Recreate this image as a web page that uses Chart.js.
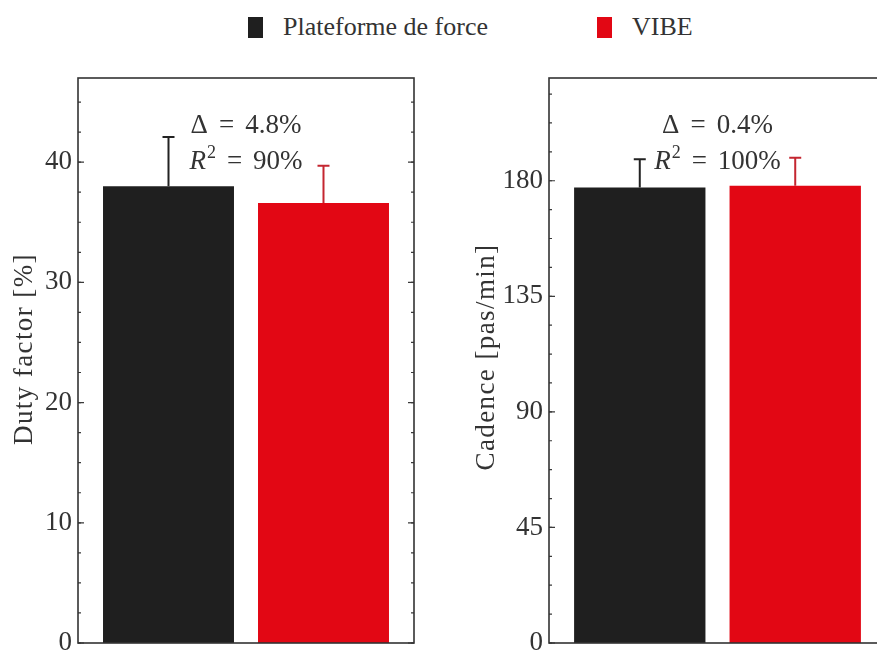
<!DOCTYPE html>
<html><head><meta charset="utf-8">
<script src="https://cdn.jsdelivr.net/npm/chart.js@4/dist/chart.umd.min.js"></script>
<style>
html,body{margin:0;padding:0;background:#fff;overflow:hidden;width:877px;height:653px;}
#wrap{position:relative;width:877px;height:653px;overflow:hidden;background:#fff;}
.cv{position:absolute;top:0;}
.leg{position:absolute;font-family:'Liberation Serif',serif;font-size:26px;line-height:1;color:#333;white-space:nowrap;}
.sw{position:absolute;width:15px;height:21px;}
</style></head><body>
<div id="wrap">
  <div class="sw" id="sw1" style="left:248px;top:17px;"></div>
  <div class="leg" id="lg1" style="left:283px;top:14px;"></div>
  <div class="sw" id="sw2" style="left:597px;top:17px;"></div>
  <div class="leg" id="lg2" style="left:632px;top:14px;"></div>
  <canvas class="cv" id="c1" width="440" height="653" style="left:0px;width:440px;height:653px;"></canvas>
  <canvas class="cv" id="c2" width="440" height="653" style="left:460px;width:440px;height:653px;"></canvas>
</div>
<script>
// ---- data ----
const panels = ['Duty factor', 'Cadence'];
const seriesNames = ['Plateforme de force', 'VIBE'];
const plateformeValues = [38.0, 177.4];
const vibeValues = [36.6, 178.0];
const plateformeErrors = [4.1, 11.0];
const vibeErrors = [3.1, 10.9];
const dutyTicks = [0, 10, 20, 30, 40];
const cadenceTicks = [0, 45, 90, 135, 180];
const yTitles = ['Duty factor [%]', 'Cadence [pas/min]'];
const deltaValues = ['4.8%', '0.4%'];
const r2Labels = ['90%', '100%'];

// ---- styles ----
const FONT = "'Liberation Serif', serif";
const TXT = '#333333';
const barColors = ['#1f1f1f', '#e20714'];
const errColors = ['#222222', '#c42630'];

document.getElementById('sw1').style.background = barColors[0];
document.getElementById('sw2').style.background = barColors[1];
document.getElementById('lg1').textContent = seriesNames[0];
document.getElementById('lg2').textContent = seriesNames[1];

const framePlugin = {
  id: 'frame',
  afterDatasetsDraw(chart, args, opts) {
    const {ctx, chartArea: a} = chart;
    const y = chart.scales.y;
    ctx.save();
    ctx.strokeStyle = '#3a3a3a';
    ctx.lineWidth = 1.2;
    for (let v = 0; v <= y.max + 1e-9; v += opts.minorStep) {
      const py = y.getPixelForValue(v);
      ctx.beginPath();
      ctx.moveTo(a.left, py); ctx.lineTo(a.left + 3, py);
      ctx.moveTo(a.right, py); ctx.lineTo(a.right - 3, py);
      ctx.stroke();
    }
    y.ticks.forEach(t => {
      const py = y.getPixelForValue(t.value);
      ctx.beginPath();
      ctx.moveTo(a.left, py); ctx.lineTo(a.left + 6, py);
      ctx.moveTo(a.right, py); ctx.lineTo(a.right - 6, py);
      ctx.stroke();
    });
    ctx.lineWidth = 1.6;
    ctx.strokeStyle = '#333';
    ctx.strokeRect(a.left, a.top, a.right - a.left, a.bottom - a.top);
    ctx.restore();
  }
};

const errorPlugin = {
  id: 'errbars',
  afterDatasetsDraw(chart) {
    const {ctx} = chart;
    const y = chart.scales.y;
    ctx.save();
    chart.data.datasets.forEach((ds, i) => {
      const meta = chart.getDatasetMeta(i);
      meta.data.forEach((el, j) => {
        const v = ds.data[j], e = ds.errors[j];
        const y0 = y.getPixelForValue(v), y1 = y.getPixelForValue(v + e);
        ctx.strokeStyle = errColors[i];
        ctx.lineWidth = 2;
        ctx.beginPath();
        ctx.moveTo(el.x, y0); ctx.lineTo(el.x, y1);
        ctx.moveTo(el.x - 6, y1); ctx.lineTo(el.x + 6, y1);
        ctx.stroke();
      });
    });
    ctx.restore();
  }
};

const titlePlugin = {
  id: 'ytitle',
  afterDraw(chart, args, opts) {
    const {ctx} = chart;
    ctx.save();
    ctx.fillStyle = TXT;
    ctx.font = `27px ${FONT}`;
    ctx.letterSpacing = '1.4px';
    ctx.translate(opts.x, opts.y);
    ctx.rotate(-Math.PI / 2);
    ctx.textAlign = 'center';
    ctx.textBaseline = 'alphabetic';
    ctx.fillText(opts.text, 0, 0);
    ctx.restore();
  }
};

function drawParts(ctx, parts, cx, by) {
  let total = 0;
  parts.forEach(p => { ctx.font = p.font; p.w = ctx.measureText(p.t).width; total += p.w + (p.gap || 0); });
  let x = cx - total / 2;
  ctx.textAlign = 'left';
  parts.forEach(p => { ctx.font = p.font; ctx.fillText(p.t, x, by + (p.dy || 0)); x += p.w + (p.gap || 0); });
}

const notePlugin = {
  id: 'notes',
  afterDraw(chart, args, opts) {
    const {ctx, chartArea: a} = chart;
    const cx = (a.left + a.right) / 2;
    const F = `27px ${FONT}`, FI = `italic 27px ${FONT}`, FS = `18px ${FONT}`;
    ctx.save();
    ctx.fillStyle = TXT;
    ctx.textBaseline = 'alphabetic';
    const g = 11;
    drawParts(ctx, [
      {t: '\u0394', font: F, gap: g},
      {t: '=', font: F, gap: g},
      {t: opts.delta, font: F}
    ], cx, a.top + 55);
    drawParts(ctx, [
      {t: 'R', font: FI, gap: 1},
      {t: '2', font: FS, dy: -11, gap: g},
      {t: '=', font: F, gap: g},
      {t: opts.r2, font: F}
    ], cx, a.top + 91);
    ctx.restore();
  }
};

function makeChart(id, idx, yMax, majorTicks, minorStep, axisWidth, padRight, titleX, titleY) {
  return new Chart(document.getElementById(id), {
    type: 'bar',
    data: {
      labels: [panels[idx]],
      datasets: [
        {label: seriesNames[0], data: [plateformeValues[idx]], errors: [plateformeErrors[idx]],
         backgroundColor: barColors[0], borderWidth: 0},
        {label: seriesNames[1], data: [vibeValues[idx]], errors: [vibeErrors[idx]],
         backgroundColor: barColors[1], borderWidth: 0}
      ]
    },
    options: {
      responsive: false,
      devicePixelRatio: 1,
      animation: false,
      categoryPercentage: 0.9226,
      barPercentage: 0.845,
      layout: {padding: {top: 78, bottom: 10, left: 0, right: padRight}},
      plugins: {
        legend: {display: false},
        tooltip: {enabled: false},
        frame: {minorStep: minorStep},
        notes: {delta: deltaValues[idx], r2: r2Labels[idx]},
        ytitle: {text: yTitles[idx], x: titleX, y: titleY}
      },
      scales: {
        x: {display: false},
        y: {
          min: 0, max: yMax,
          afterBuildTicks: s => { s.ticks = majorTicks.map(v => ({value: v})); },
          afterFit: s => { s.width = axisWidth; s.paddingTop = 0; s.paddingBottom = 0; },
          grid: {display: false, drawTicks: false},
          border: {display: false},
          ticks: {font: {family: FONT, size: 27}, color: TXT, padding: 6},
          title: {display: false}
        }
      }
    },
    plugins: [errorPlugin, framePlugin, notePlugin, titlePlugin]
  });
}

makeChart('c1', 0, 47, dutyTicks, 2.5, 78, 26, 32, 349);
makeChart('c2', 1, 220, cadenceTicks, 11.25, 89, 14, 34, 357);
</script>
</body></html>
